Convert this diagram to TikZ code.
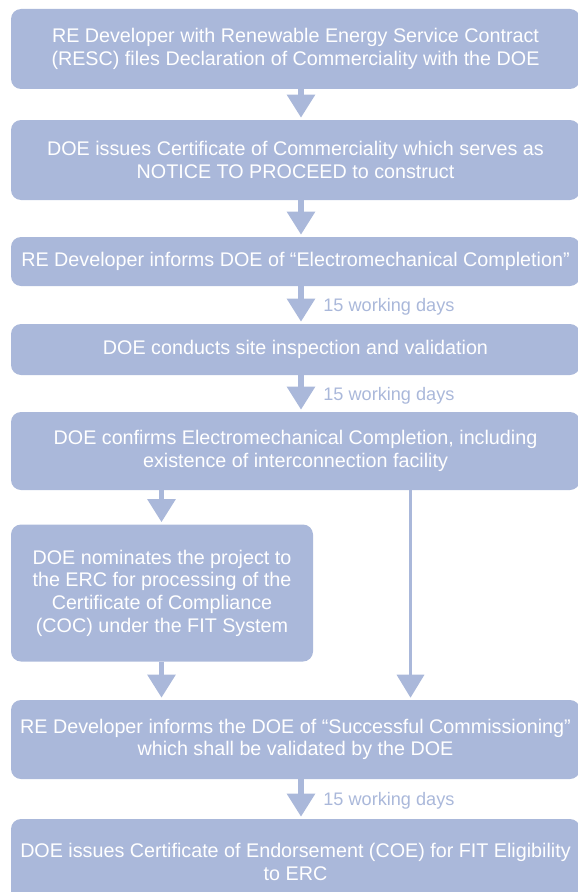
\documentclass[tikz,border=0pt]{standalone}
\usepackage{fontspec}
\setmainfont{Liberation Sans}
\usetikzlibrary{arrows.meta,positioning}
\definecolor{stepblue}{RGB}{170,184,218}

\begin{document}
\begin{tikzpicture}[x=0.75pt,y=0.75pt,yscale=-1,xscale=1,
  stepbox/.style={fill=stepblue, draw=none, rounded corners=7.5pt, inner sep=0pt, minimum width=426.75pt, text=white, align=center, font=\fontsize{14.8}{17}\selectfont},
  flow/.style={draw=stepblue, line width=4.1pt, -{Triangle[width=20.25pt,length=17.25pt]}, shorten >=1.5pt},
  thinflow/.style={flow, line width=2.6pt},
  days/.style={text=stepblue, font=\fontsize{13.6}{16.5}\selectfont, inner sep=0.75pt, anchor=west, xshift=14pt, yshift=-1.5pt}]
%set diagram left start at 0, and has height of 892
\useasboundingbox (0,0) rectangle (578,892);

%Arrow columns
\coordinate (mid) at (301,0);
\coordinate (lft) at (161.5,0);
\coordinate (rgt) at (410.5,0);

%Shape: Rounded Rect [id:b1]
\node (b1) [stepbox, minimum height=60pt] at (295.5,49) {RE Developer with Renewable Energy Service Contract\\(RESC) files Declaration of Commerciality with the DOE};
%Shape: Rounded Rect [id:b2]
\node (b2) [stepbox, minimum height=60pt] at (295.5,160) {DOE issues Certificate of Commerciality which serves as\\NOTICE TO PROCEED to construct};
%Shape: Rounded Rect [id:b3]
\node (b3) [stepbox, minimum height=36.75pt] at (295.5,261.5) {RE Developer informs DOE of “Electromechanical Completion”};
%Shape: Rounded Rect [id:b4]
\node (b4) [stepbox, minimum height=38.25pt] at (295.5,349.5) {DOE conducts site inspection and validation};
%Shape: Rounded Rect [id:b5]
\node (b5) [stepbox, minimum height=58.5pt] at (295.5,451) {DOE confirms Electromechanical Completion, including\\existence of interconnection facility};
%Shape: Rounded Rect [id:b6]
\node (b6) [stepbox, minimum width=226.5pt, minimum height=102.75pt] at (162,593) {DOE nominates the project to\\the ERC for processing of the\\Certificate of Compliance\\(COC) under the FIT System};
%Shape: Rounded Rect [id:b7]
\node (b7) [stepbox, minimum height=59.25pt] at (295.5,739.5) {RE Developer informs the DOE of “Successful Commissioning”\\which shall be validated by the DOE};
%Shape: Rounded Rect [id:b8]
\node (b8) [stepbox, minimum height=64.5pt] at (295.5,862) {DOE issues Certificate of Endorsement (COE) for FIT Eligibility\\to ERC};

%Straight Lines [id:a1]
\draw [flow] (b1.south -| mid) -- (b2.north -| mid);
%Straight Lines [id:a2]
\draw [flow] (b2.south -| mid) -- (b3.north -| mid);
%Straight Lines [id:a3]
\draw [flow] (b3.south -| mid) -- node [days] {15 working days} (b4.north -| mid);
%Straight Lines [id:a4]
\draw [flow] (b4.south -| mid) -- node [days] {15 working days} (b5.north -| mid);
%Straight Lines [id:a5]
\draw [flow] (b5.south -| lft) -- (b6.north -| lft);
%Straight Lines [id:a6]
\draw [flow] (b6.south -| lft) -- (b7.north -| lft);
%Straight Lines [id:a7]
\draw [thinflow] (b5.south -| rgt) -- (b7.north -| rgt);
%Straight Lines [id:a8]
\draw [flow] (b7.south -| mid) -- node [days] {15 working days} (b8.north -| mid);

\end{tikzpicture}
\end{document}
